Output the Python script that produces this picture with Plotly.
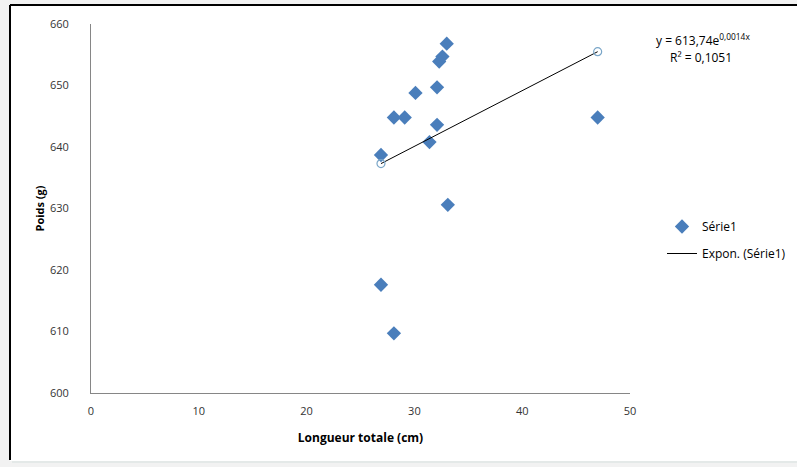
import plotly.graph_objects as go

# Data
longueur = [33.0, 32.6, 32.3, 32.1, 30.1, 28.1, 29.1, 32.1, 31.4, 26.9, 47.0, 33.1, 26.9, 28.1]
poids = [656.8, 654.7, 653.9, 649.7, 648.8, 644.8, 644.8, 643.6, 640.8, 638.7, 644.8, 630.6, 617.6, 609.7]
trend_x = [26.9, 47.0]
trend_y = [637.3, 655.5]

W, H = 797, 467
L, R, T, B = 91, 167, 24, 74
pw, ph = W - L - R, H - T - B

def px(x):
    return (x - L) / pw

def py(y):
    return (H - B - y) / ph

font = "Open Sans, Liberation Sans, sans-serif"

fig = go.Figure()
fig.add_trace(go.Scatter(
    x=longueur, y=poids, mode="markers", name="Série1",
    marker=dict(symbol="diamond", size=11, color="#4a7ebb"),
    legendgroup="a",
))
fig.add_trace(go.Scatter(
    x=trend_x, y=trend_y, mode="lines", name="Expon. (Série1)",
    line=dict(color="#000000", width=1),
    legendgroup="b",
))
fig.add_trace(go.Scatter(
    x=trend_x, y=trend_y, mode="markers", showlegend=False,
    marker=dict(symbol="circle-open", size=8, color="#7aa6c8", line=dict(width=1.2)),
    hoverinfo="skip",
))

shapes = [
    dict(type="rect", xref="paper", yref="paper", x0=px(10), x1=px(W + 5), y0=py(461), y1=py(5),
         fillcolor="#ffffff", line=dict(width=0), layer="below"),
    dict(type="line", xref="paper", yref="paper", x0=px(10), x1=px(10), y0=py(460), y1=py(5),
         line=dict(color="#000000", width=2), layer="below"),
    dict(type="line", xref="paper", yref="paper", x0=px(10), x1=px(W + 5), y0=py(5), y1=py(5),
         line=dict(color="#000000", width=2), layer="below"),
    dict(type="line", xref="paper", yref="paper", x0=px(12), x1=px(W + 5), y0=py(462), y1=py(462),
         line=dict(color="#dfe6e4", width=1.5), layer="below"),
]

annotations = [
    dict(xref="paper", yref="paper", x=px(703), y=py(40), text="y = 613,74e<sup>0,0014x</sup>",
         showarrow=False, font=dict(family=font, size=12, color="#000"), xanchor="center", yanchor="middle"),
    dict(xref="paper", yref="paper", x=px(701), y=py(57), text="R² = 0,1051",
         showarrow=False, font=dict(family=font, size=12, color="#000"), xanchor="center", yanchor="middle"),
]

fig.update_layout(
    width=W, height=H,
    margin=dict(l=L, r=R, t=T, b=B, pad=0, autoexpand=False),
    paper_bgcolor="#f2f2f2", plot_bgcolor="rgba(0,0,0,0)",
    font=dict(family=font, size=11, color="#333333"),
    shapes=shapes, annotations=annotations,
    showlegend=True,
    legend=dict(x=px(662), y=py(212), xanchor="left", yanchor="top",
                bgcolor="rgba(0,0,0,0)", font=dict(family=font, size=12, color="#000"),
                itemwidth=30, tracegroupgap=8),
    xaxis=dict(range=[0, 50], dtick=10, showgrid=False, zeroline=False,
               showline=True, linecolor="#868686", linewidth=1, ticks="",
               tickfont=dict(size=11, color="#333333"), ticklabelstandoff=8,
               title=dict(text="<b>Longueur totale (cm)</b>", font=dict(size=12, color="#000"), standoff=16)),
    yaxis=dict(range=[600, 660], dtick=10, showgrid=False, zeroline=False,
               showline=True, linecolor="#868686", linewidth=1, ticks="",
               tickfont=dict(size=11, color="#333333"), ticklabelstandoff=19,
               title=dict(text="<b>Poids (g)</b>", font=dict(size=11, color="#000"), standoff=3)),
)

fig.write_html("out.html")
